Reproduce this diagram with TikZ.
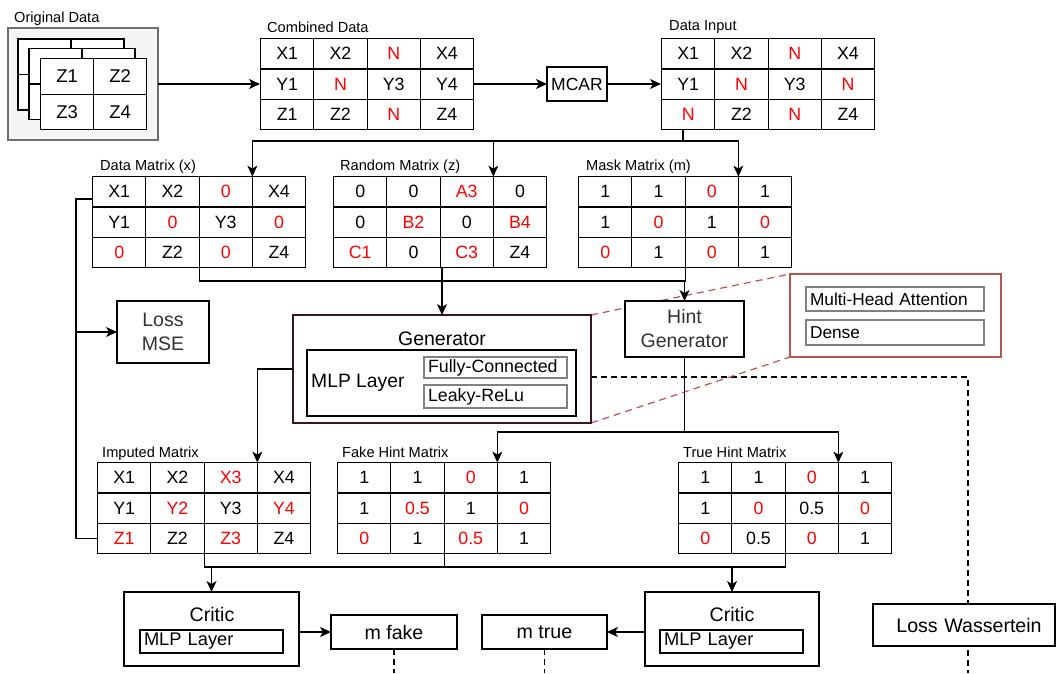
\documentclass[tikz,border=0pt]{standalone}
\usepackage{fontspec}
\setmainfont{Liberation Sans}
\usetikzlibrary{matrix,arrows.meta,calc}
\newcommand\fsz[1]{\fontsize{#1}{#1}\selectfont}
\definecolor{myred}{RGB}{255,0,0}
\definecolor{txtgray}{RGB}{51,51,51}
\definecolor{genborder}{RGB}{60,20,40}
\definecolor{attred}{RGB}{184,84,80}
\definecolor{boxgray}{RGB}{128,128,128}
\definecolor{bggray}{RGB}{245,245,245}
\definecolor{bgborder}{RGB}{110,110,110}
\pgfdeclarelayer{bg}
\pgfsetlayers{bg,main}
\begin{document}
\begin{tikzpicture}[x=1pt,y=-1pt,
  lw/.style={line width=1.2pt},
  arr/.style={line width=1.2pt,-{Stealth[length=11pt,width=10pt,inset=3pt]}},
  dsh/.style={line width=1.2pt,dash pattern=on 6pt off 4pt},
  rdsh/.style={line width=1.2pt,draw=attred,dash pattern=on 7pt off 5pt},
  r/.style={text=myred},
  grid/.style={matrix of nodes, anchor=north west, inner sep=0pt, outer sep=0pt,
     column sep=-1.2pt, row sep=-1.2pt,
     nodes={draw, fill=white, line width=1.2pt, minimum width=53.25pt, minimum height=30.33pt,
            inner sep=0pt, outer sep=0pt, font=\fsz{17.8}, anchor=center}},
  gridz/.style={grid, nodes={minimum width=53pt, minimum height=35.5pt, font=\fsz{18.5}}},
  lbl/.style={anchor=base west, inner sep=0pt, font=\fsz{14.6}},
  box/.style={draw, fill=white, line width=1.2pt, inner sep=0pt, outer sep=0pt},
  gbox/.style={draw=boxgray, fill=white, line width=1.2pt, inner xsep=4pt, inner ysep=0pt,
               outer sep=0pt, anchor=west, align=left},
]
\useasboundingbox (0,0) rectangle (1056,673);
\coordinate (bot) at (0,673);

% ---------- Original data ----------
\node[lbl] (lod) at (14,22.7) {Original Data};
\node[draw=bgborder, fill=bggray, line width=1.2pt, minimum width=150pt, minimum height=112pt,
      inner sep=0pt, outer sep=0pt] (od) at (83,84) {};
\foreach \dx/\dy in {18/39, 29/48.5} {
  \filldraw[fill=white, lw] (\dx,\dy) rectangle ++(106,71);
  \draw[lw] (\dx+53,\dy) -- ++(0,71);
  \draw[lw] (\dx,\dy+35.5) -- ++(106,0);
}
\matrix[gridz] (odm) at (40,58) {Z1 & Z2\\ Z3 & Z4\\};

% ---------- Combined data / MCAR / input ----------
\node[lbl] (lcd) at (267,32) {Combined Data};
\matrix[grid] (cd) at (260,38) {
  X1 & X2 & |[r]| N & X4\\
  Y1 & |[r]| N & Y3 & Y4\\
  Z1 & Z2 & |[r]| N & Z4\\};
\node[box, minimum width=60pt, minimum height=34pt, font=\fsz{17.5}] (mcar) at (577,84) {MCAR};
\node[lbl] (ldi) at (669,30) {Data Input};
\matrix[grid] (di) at (661,38) {
  X1 & X2 & |[r]| N & X4\\
  Y1 & |[r]| N & Y3 & |[r]| N\\
  |[r]| N & Z2 & |[r]| N & Z4\\};

% ---------- x, z, m ----------
\node[lbl] (ldm) at (100,170) {Data Matrix (x)};
\matrix[grid] (dm) at (92,176) {
  X1 & X2 & |[r]| 0 & X4\\
  Y1 & |[r]| 0 & Y3 & |[r]| 0\\
  |[r]| 0 & Z2 & |[r]| 0 & Z4\\};
\node[lbl] (lrm) at (340,170) {Random Matrix (z)};
\matrix[grid] (rm) at (333,176) {
  0 & 0 & |[r]| A3 & 0\\
  0 & |[r]| B2 & 0 & |[r]| B4\\
  |[r]| C1 & 0 & |[r]| C3 & Z4\\};
\node[lbl] (lmm) at (586,170) {Mask Matrix (m)};
\matrix[grid] (mm) at (578,176) {
  1 & 1 & |[r]| 0 & 1\\
  1 & |[r]| 0 & 1 & |[r]| 0\\
  |[r]| 0 & 1 & |[r]| 0 & 1\\};

% ---------- Loss MSE, Generator, Hint ----------
\node[box, minimum width=92pt, minimum height=62pt, align=center, text=txtgray,
      font=\fontsize{19.5}{24}\selectfont] (mse) at (163,332) {Loss\\MSE};
\node[draw=genborder, fill=white, line width=1.2pt, minimum width=298pt, minimum height=108pt,
      inner sep=0pt, outer sep=0pt] (gen) at (442,369) {};
\node[font=\fsz{19.5}, inner sep=0pt] (gent) at (442,339) {Generator};
\node[box, minimum width=269pt, minimum height=66pt] (mlp) at (441.5,383) {};
\node[anchor=west, font=\fsz{19.3}, inner sep=0pt] (mlpt) at (311,383) {MLP Layer};
\node[gbox, text width=135pt, minimum height=21pt, font=\fsz{17.8}] (fc) at (424,367.5) {Fully-Connected};
\node[gbox, text width=135pt, minimum height=23pt, font=\fsz{17.8}] (lr) at (424,396.5) {Leaky-ReLu};

\node[box, minimum width=119pt, minimum height=56pt, align=center, text=txtgray,
      font=\fontsize{19.5}{24}\selectfont] (hint) at (684.5,329) {Hint\\Generator};

\node[draw=attred, fill=white, line width=1.2pt, minimum width=211pt, minimum height=83pt,
      inner sep=0pt, outer sep=0pt] (att) at (895.5,315.5) {};
\node[gbox, text width=170pt, minimum height=24pt, font=\fsz{17.3}] (mha) at (806,299) {Multi-Head Attention};
\node[gbox, text width=170pt, minimum height=25pt, font=\fsz{17.3}] (dense) at (806,332.5) {Dense};

% ---------- imputed, hints ----------
\node[lbl] (lim) at (102,457) {Imputed Matrix};
\matrix[grid] (im) at (97,462) {
  X1 & X2 & |[r]| X3 & X4\\
  Y1 & |[r]| Y2 & Y3 & |[r]| Y4\\
  |[r]| Z1 & Z2 & |[r]| Z3 & Z4\\};
\node[lbl] (lfh) at (342,457) {Fake Hint Matrix};
\matrix[grid] (fh) at (337,462) {
  1 & 1 & |[r]| 0 & 1\\
  1 & |[r]| 0.5 & 1 & |[r]| 0\\
  |[r]| 0 & 1 & |[r]| 0.5 & 1\\};
\node[lbl] (lth) at (683,457) {True Hint Matrix};
\matrix[grid] (th) at (678,462) {
  1 & 1 & |[r]| 0 & 1\\
  1 & |[r]| 0 & 0.5 & |[r]| 0\\
  |[r]| 0 & 0.5 & |[r]| 0 & 1\\};

% ---------- critics ----------
\node[box, minimum width=175pt, minimum height=74pt] (c1) at (211.5,629) {};
\node[font=\fsz{19.6}, inner sep=0pt] (c1t) at (212,614) {Critic};
\node[gbox, draw=black, text width=135pt, minimum height=23pt, font=\fsz{18.3}] (c1m) at (140,641.5) {MLP Layer};
\node[box, minimum width=174pt, minimum height=74pt] (c2) at (732,629) {};
\node[font=\fsz{19.6}, inner sep=0pt] (c2t) at (732,614) {Critic};
\node[gbox, draw=black, text width=135pt, minimum height=23pt, font=\fsz{18.3}] (c2m) at (660,641.5) {MLP Layer};
\node[box, minimum width=126pt, minimum height=34pt, font=\fsz{19.6}] (mfake) at (394,632) {m fake};
\node[box, minimum width=125pt, minimum height=34pt, font=\fsz{19.6}] (mtrue) at (544.5,632) {m true};

% ---------- dashed (background) ----------
\coordinate (d1) at (968,377);
\begin{pgfonlayer}{bg}
\draw[dsh] (mfake.south) -- (mfake.south |- bot);
\draw[dsh] (mtrue.south) -- (mtrue.south |- bot);
\draw[dsh] (gen.east |- d1) -- (d1) -- (d1 |- bot);
\draw[rdsh] (gen.north east) -- (att.north west);
\draw[rdsh] (gen.south east) -- (att.south west);
\end{pgfonlayer}
\node[box, minimum width=182pt, minimum height=42pt, text width=172pt, align=center,
      font=\fsz{19.6}] (lw) at (964,625) {\hspace*{10pt}Loss Wassertein};

% ---------- connectors ----------
\draw[arr] (od.east) -- (od.east -| cd.west);
\draw[arr] (cd.east |- mcar.west) -- (mcar.west);
\draw[arr] (mcar.east) -- (mcar.east -| di.west);
\coordinate (j1) at (683,141);
\draw[lw] (j1 |- di.south) -- (j1);
\draw[arr] (j1) -| (dm-1-3.north east);
\draw[arr] (j1) -| (mm-1-3.north east);
\draw[arr] (j1 -| rm-1-3.north east) -- (rm-1-3.north east);

\coordinate (j2) at (442,281);
\draw[lw] (dm-3-2.south east) |- (j2) -| (mm-3-2.south east);
\draw[lw] (rm.south -| gen.north) -- (j2);
\draw[arr] (j2) -- (gen.north);
\draw[arr] (j2 -| hint.north) -- (hint.north);

\coordinate (l1) at (76,199);
\draw[lw] (dm.west |- l1) -- (l1) |- (im-3-1.west);
\draw[arr] (l1 |- mse.west) -- (mse.west);

\draw[arr] (gen.west) -| (im-1-3.north east);

\coordinate (j3) at (684.5,432);
\draw[lw] (hint.south) -- (j3);
\draw[arr] (j3) -| (fh-1-3.north east);
\draw[arr] (j3) -| (th-1-3.north east);

\coordinate (j4) at (442,567);
\draw[lw] (im-3-2.south east) |- (j4) -| (th-3-2.south east);
\draw[lw] (fh-3-2.south east) -- (fh-3-2.south east |- j4);
\draw[arr] (c1.north |- j4) -- (c1.north);
\draw[arr] (c2.north |- j4) -- (c2.north);

\draw[arr] (c1.east |- mfake.west) -- (mfake.west);
\draw[arr] (c2.west |- mtrue.east) -- (mtrue.east);
\end{tikzpicture}
\end{document}
